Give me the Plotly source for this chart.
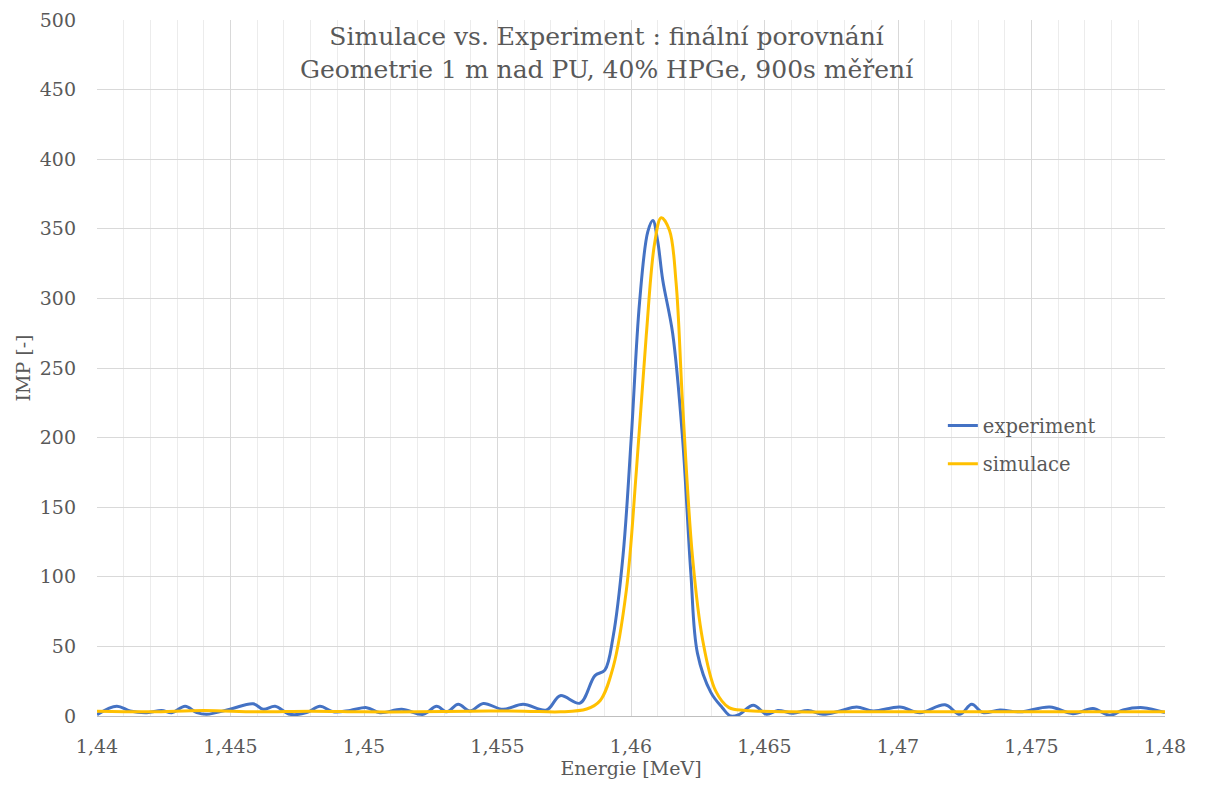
import plotly.graph_objects as go

# ---- data ----
exp_x = [1.4400, 1.44074, 1.44124, 1.44187, 1.44242, 1.4428, 1.4433, 1.44374, 1.44411, 1.44498,
         1.44585, 1.44623, 1.44667, 1.44723, 1.44785, 1.44835, 1.44885, 1.44948, 1.4501, 1.4506,
         1.45141, 1.45222, 1.45272, 1.4531, 1.45353, 1.45397, 1.45447, 1.4552, 1.45596, 1.45684,
         1.45735, 1.45809, 1.45865, 1.45902, 1.45933, 1.45970, 1.46001, 1.46032, 1.46063, 1.46082,
         1.46100, 1.46119, 1.46156, 1.46193, 1.46224, 1.46249, 1.46299, 1.46342, 1.46373, 1.46404,
         1.46458, 1.46508, 1.4655, 1.46607, 1.46663, 1.46719, 1.46783, 1.46845, 1.46907, 1.47007,
         1.47082, 1.47176, 1.47232, 1.47276, 1.47318, 1.47382, 1.47457, 1.47569, 1.47655, 1.4773,
         1.47794, 1.47843, 1.47918, 1.48]
exp_y = [1, 7, 3.6, 2.4, 4, 2.4, 7, 2.4, 1.2, 4.8,
         8.8, 4.8, 7, 1.2, 2.4, 7, 3, 4, 6, 2.4,
         4.8, 1.2, 7, 3, 8.4, 3.6, 9, 4.8, 8.4, 4.3,
         14.6, 9.2, 29, 33, 57, 115, 200, 297, 348, 356,
         341, 313, 275, 200, 103, 45, 17, 6, 0, 1,
         7.7, 1.2, 4, 2, 4, 1.2, 3.6, 6.5, 3.6, 6.5,
         2.4, 8, 1.2, 8.4, 2.4, 4.3, 3, 6.5, 1.7, 5.3,
         0.5, 4.3, 6, 2.4]

sim_x = [1.44, 1.442, 1.444, 1.446, 1.448, 1.45, 1.452, 1.454, 1.456, 1.45735,
         1.45834, 1.45884, 1.45933, 1.45983, 1.46020, 1.46057, 1.46088, 1.46113, 1.46144, 1.46169,
         1.46193, 1.46230, 1.46268, 1.46317, 1.46367, 1.46429, 1.466, 1.468, 1.47, 1.472,
         1.474, 1.476, 1.478, 1.48]
sim_y = [3.5, 3, 4, 3, 3.5, 3, 3, 3.5, 3.5, 3,
         5, 11, 35, 91, 176, 273, 339, 358, 349, 311,
         225, 115, 55, 18, 6, 4, 3, 3, 3, 3,
         3, 3, 3, 3]

x_ticks = [1.44, 1.445, 1.45, 1.455, 1.46, 1.465, 1.47, 1.475, 1.48]
x_tick_labels = ["1,44", "1,445", "1,45", "1,455", "1,46", "1,465", "1,47", "1,475", "1,48"]

title_lines = ["Simulace vs. Experiment : finální porovnání",
               "Geometrie 1 m nad PU, 40% HPGe, 900s měření"]

FONT = "DejaVu Serif"
TXT = "#595959"

fig = go.Figure()
fig.add_trace(go.Scatter(x=exp_x, y=exp_y, mode="lines", name="experiment",
                         line=dict(color="#4472C4", width=3, shape="spline", smoothing=1),
                         legendgroup="a"))
fig.add_trace(go.Scatter(x=sim_x, y=sim_y, mode="lines", name="simulace",
                         line=dict(color="#FFC000", width=3, shape="spline", smoothing=1),
                         legendgroup="b"))

fig.update_layout(
    width=1205, height=787,
    margin=dict(l=97, r=40, t=20, b=71),
    paper_bgcolor="white", plot_bgcolor="white",
    font=dict(family=FONT, color=TXT, size=19),
    showlegend=True,
    legend=dict(x=0.792, y=0.445, xanchor="left", yanchor="top",
                bgcolor="rgba(0,0,0,0)", font=dict(size=19.5, color=TXT),
                tracegroupgap=10, itemwidth=30),
    annotations=[dict(text="<br>".join(title_lines), xref="paper", yref="paper",
                      x=0.4775, y=1.0, xanchor="center", yanchor="top",
                      showarrow=False, font=dict(size=25, color=TXT, family=FONT))],
)

fig.update_xaxes(
    range=[1.44, 1.48], tickmode="array", tickvals=x_ticks, ticktext=x_tick_labels,
    showgrid=True, gridcolor="#d9d9d9", gridwidth=1,
    minor=dict(dtick=0.001, tick0=1.44, showgrid=True, gridcolor="#ececec", gridwidth=1),
    showline=True, linecolor="#bfbfbf", linewidth=1,
    ticks="", tickfont=dict(size=19, color=TXT), ticklabelstandoff=13,
    title=dict(text="Energie [MeV]", font=dict(size=19, color=TXT), standoff=4),
    zeroline=False, automargin=False,
)
fig.update_yaxes(
    range=[0, 500], dtick=50, tick0=0,
    showgrid=True, gridcolor="#d9d9d9", gridwidth=1,
    showline=False, ticks="", tickfont=dict(size=19, color=TXT), ticklabelstandoff=20,
    title=dict(text="IMP [-]", font=dict(size=19, color=TXT), standoff=4),
    zeroline=False, automargin=False,
)

fig.write_html("out.html")
